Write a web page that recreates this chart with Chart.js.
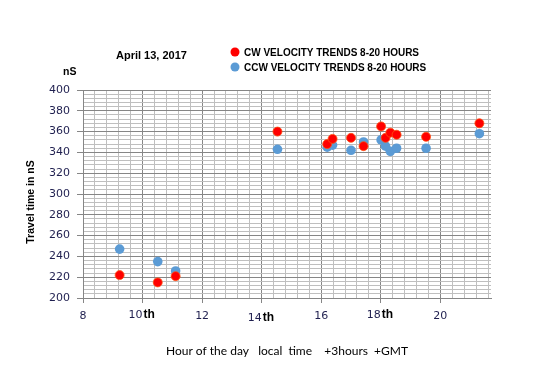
<!DOCTYPE html>
<html><head><meta charset="utf-8">
<script src="https://cdn.jsdelivr.net/npm/chart.js@4/dist/chart.umd.min.js"></script>
<style>html,body{margin:0;padding:0;background:#fff;}canvas{display:block;}</style>
</head><body>
<canvas id="c" width="550" height="380"></canvas>
<script>
// ---- data ----
const cwHours  = [9.23, 10.51, 11.11, 14.53, 16.20, 16.38, 17.00, 17.42, 18.01, 18.16, 18.32, 18.53, 19.52, 21.31];
const cwTimes  = [222, 215, 221, 360, 348, 353, 354, 346, 365, 354, 359, 357, 355, 368];
const ccwHours = [9.23, 10.51, 11.11, 14.53, 16.20, 16.38, 17.00, 17.42, 18.01, 18.16, 18.32, 18.53, 19.52, 21.31];
const ccwTimes = [247, 235, 226, 343, 345, 347, 342, 350, 352, 346, 341, 344, 344, 358];
const seriesNames = ['CW VELOCITY TRENDS 8-20 HOURS', 'CCW VELOCITY TRENDS 8-20 HOURS'];
const xTickLabels = [8, 10, 12, 14, 16, 18, 20];
const annotatedHours = [10, 14, 18];
const annotationSuffix = 'th';
const yTickLabels = [200, 220, 240, 260, 280, 300, 320, 340, 360, 380, 400];
const chartTitle = 'April 13, 2017';
const yUnit = 'nS';
const yTitle = 'Travel time in nS';
const xTitle = 'Hour of the day   local  time    +3hours  +GMT';

const RED = '#FF0000', BLUE = '#5B9BD5';
const MAJOR = '#868686', MINOR = '#BFBFBF';
const near = (v, s) => Math.abs(v / s - Math.round(v / s)) < 1e-6;

const overlay = {
  id: 'overlay',
  afterDraw(chart) {
    const ctx = chart.ctx, xs = chart.scales.x;
    ctx.save();
    ctx.fillStyle = '#000';
    ctx.textBaseline = 'middle';
    ctx.textAlign = 'left';
    ctx.font = 'bold 11px "Liberation Sans", Arial, sans-serif';
    ctx.fillText(chartTitle, 116, 56);
    ctx.font = 'bold 10.5px "Liberation Sans", Arial, sans-serif';
    ctx.fillText(yUnit, 63, 72);
    // legend
    const cols = [RED, BLUE];
    ctx.font = 'bold 10px "Liberation Sans", Arial, sans-serif';
    seriesNames.forEach((n, i) => {
      const y = 53 + 15 * i;
      ctx.beginPath(); ctx.arc(235, y - 1, 4.5, 0, Math.PI * 2);
      ctx.fillStyle = cols[i]; ctx.fill();
      ctx.fillStyle = '#000';
      ctx.fillText(n, 244, y);
    });
    // y title
    ctx.save();
    ctx.translate(31, 202);
    ctx.rotate(-Math.PI / 2);
    ctx.textAlign = 'center';
    ctx.font = 'bold 10.5px "Liberation Sans", Arial, sans-serif';
    ctx.fillText(yTitle, 0, 0);
    ctx.restore();
    // x title
    ctx.textAlign = 'center';
    ctx.font = '12px Lato, "Open Sans", sans-serif';
    ctx.fillStyle = '#000';
    ctx.fillText(xTitle, 287, 351);
    // annotated tick labels
    annotatedHours.forEach(h => {
      const px = xs.getPixelForValue(h);
      const dy = h === 14 ? 3 : 0;
      ctx.textAlign = 'right';
      ctx.font = '11px "DejaVu Sans", sans-serif';
      ctx.fillStyle = '#1F1F4F';
      ctx.fillText(String(h), px, 315 + dy);
      ctx.textAlign = 'left';
      ctx.font = 'bold 12px "Liberation Sans", Arial, sans-serif';
      ctx.fillStyle = '#000';
      ctx.fillText(annotationSuffix, px + 1, 315 + dy);
    });
    ctx.restore();
  }
};

new Chart(document.getElementById('c'), {
  type: 'scatter',
  data: {
    datasets: [
      { label: seriesNames[0], data: cwHours.map((x, i) => ({ x, y: cwTimes[i] })),
        backgroundColor: RED, borderColor: '#FF5010', borderWidth: 0.8, pointRadius: 4.5 },
      { label: seriesNames[1], data: ccwHours.map((x, i) => ({ x, y: ccwTimes[i] })),
        backgroundColor: BLUE, borderColor: BLUE, borderWidth: 0, pointRadius: 4.8 }
    ]
  },
  options: {
    responsive: false,
    animation: false,
    events: [],
    layout: { padding: { left: 0, right: 59, top: 90, bottom: 0 } },
    plugins: { legend: { display: false }, title: { display: false }, tooltip: { enabled: false } },
    scales: {
      x: {
        type: 'linear', min: 8, max: 21.7,
        afterFit: s => { s.height = 82; },
        ticks: {
          stepSize: 0.4, includeBounds: false, autoSkip: false, maxRotation: 0, padding: 7,
          color: '#1F1F4F', font: { family: '"DejaVu Sans", sans-serif', size: 11 },
          callback: v => (xTickLabels.some(t => Math.abs(t - v) < 1e-6) && !annotatedHours.some(t => Math.abs(t - v) < 1e-6)) ? String(Math.round(v)) : ''
        },
        grid: {
          color: c => near(c.tick.value, 2) ? MAJOR : MINOR,
          lineWidth: 1,
          tickLength: 5,
          tickColor: c => near(c.tick.value, 2) ? MAJOR : 'rgba(0,0,0,0)'
        },
        border: { color: MAJOR, width: 1 }
      },
      y: {
        type: 'linear', min: 200, max: 400,
        afterFit: s => { s.width = 83; },
        ticks: {
          stepSize: 4, autoSkip: false, padding: 7,
          color: '#1F1F4F', font: { family: '"DejaVu Sans", sans-serif', size: 11 },
          callback: v => yTickLabels.includes(Math.round(v)) && near(v, 20) ? String(Math.round(v)) : ''
        },
        grid: {
          color: c => near(c.tick.value, 20) ? MAJOR : MINOR,
          lineWidth: 1,
          tickLength: 6,
          tickColor: c => near(c.tick.value, 20) ? MAJOR : 'rgba(0,0,0,0)'
        },
        border: { color: MAJOR, width: 1 }
      }
    }
  },
  plugins: [overlay]
});
</script>
</body></html>
